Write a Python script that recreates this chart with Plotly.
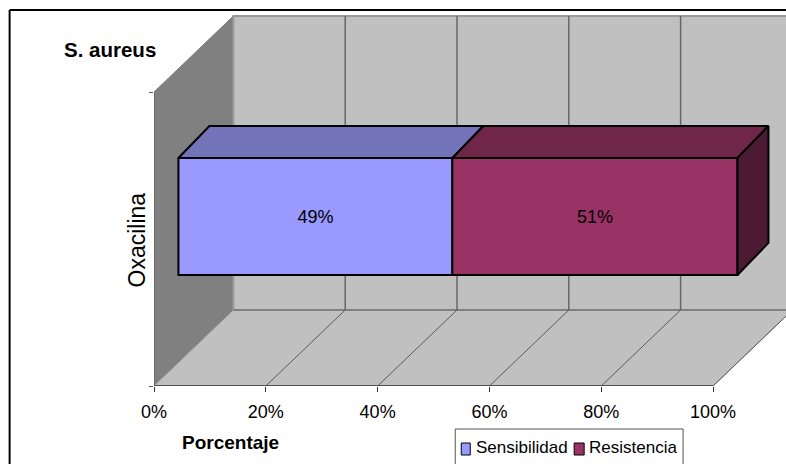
import plotly.graph_objects as go

# Chart data
categories = ["Oxacilina"]
series_names = ["Sensibilidad", "Resistencia"]
sensibilidad = [49]
resistencia = [51]
x_ticks = [0, 20, 40, 60, 80, 100]

FONT = "Liberation Sans"
W, H = 786, 464
LEFT, AXIS_RIGHT, AXIS_TOP, BOTTOM = 153.5, 713.0, 92.0, 386.0
PX_PER_X = (AXIS_RIGHT - LEFT) / 100
PX_PER_Y = BOTTOM - AXIS_TOP

# Oblique projection: how far the back wall sits from the front plane, in axis units
WALL_DX, WALL_DY = 14.2, 0.2585
# Bar solid: offset of its front face and extrusion towards the back
BAR_DX, BAR_DY = 4.37, 0.0765
EXT_DX, EXT_DY = 5.54, 0.109
BAR_CENTER, BAR_HEIGHT = 0.5, 0.398

FRONT = ["#9999ff", "#993366"]
TOPS = ["#7373ba", "#6f2649"]
SIDE = "#4d1a33"


def xp(px):
    return (px - LEFT) / (W - LEFT)


def yp(py):
    return (BOTTOM - py) / BOTTOM


def poly(xs, ys, fill, line_color, line_width=1):
    return go.Scatter(
        x=xs + xs[:1], y=ys + ys[:1], mode="lines",
        fill="toself", fillcolor=fill, line=dict(color=line_color, width=line_width),
        showlegend=False, hoverinfo="skip",
    )


def seg(xs, ys, color, width):
    return go.Scatter(
        x=xs, y=ys, mode="lines", line=dict(color=color, width=width),
        showlegend=False, hoverinfo="skip",
    )


fig = go.Figure()

# Room: left wall, back wall, floor
fig.add_trace(poly([0, WALL_DX, WALL_DX, 0], [0, WALL_DY, 1 + WALL_DY, 1], "#808080", "#808080"))
fig.add_trace(poly([WALL_DX, 100 + WALL_DX, 100 + WALL_DX, WALL_DX],
                   [WALL_DY, WALL_DY, 1 + WALL_DY, 1 + WALL_DY], "#c0c0c0", "#999999", 2))
fig.add_trace(poly([0, 100, 100 + WALL_DX, WALL_DX], [0, 0, WALL_DY, WALL_DY], "#c0c0c0", "#999999", 1))
fig.add_trace(seg([WALL_DX, 100 + WALL_DX], [WALL_DY, WALL_DY], "#808080", 2))

# Gridlines across the floor and up the back wall
for t in x_ticks[1:]:
    fig.add_trace(seg([t, t + WALL_DX], [0, WALL_DY], "#5a5a5a", 1))
    fig.add_trace(seg([t + WALL_DX, t + WALL_DX], [WALL_DY, 1 + WALL_DY], "#666666", 1.5))

# Axis lines stop at the front plane of the room
fig.add_trace(seg([0, 100], [0, 0], "#333333", 1.5))
fig.add_trace(seg([0, 0], [0, 1], "#555555", 1))

# Stacked bar front faces, on an overlay so they sit above the room
y_center = BAR_CENTER + BAR_DY
y_low = y_center - BAR_HEIGHT / 2
y_high = y_center + BAR_HEIGHT / 2
values = [sensibilidad[0], resistencia[0]]
bases = [0, sensibilidad[0]]
for name, value, base, color in zip(series_names, values, bases, FRONT):
    fig.add_trace(go.Bar(
        name=name, orientation="h", x=[value], base=[base + BAR_DX], y=[y_center], width=[BAR_HEIGHT],
        xaxis="x2", yaxis="y2", marker=dict(color=color, line=dict(color="black", width=2)),
        text=[f"{value}%"], textposition="inside", insidetextanchor="middle", textangle=0,
        textfont=dict(family=FONT, size=18, color="black"),
        showlegend=False,
    ))

# Top faces of each segment and the end cap of the stack
for base, value, color in zip(bases, values, TOPS):
    x0, x1 = base + BAR_DX, base + value + BAR_DX
    trace = poly([x0, x1, x1 + EXT_DX, x0 + EXT_DX],
                 [y_high, y_high, y_high + EXT_DY, y_high + EXT_DY], color, "black", 2)
    trace.update(xaxis="x2", yaxis="y2")
    fig.add_trace(trace)
x_end = bases[-1] + values[-1] + BAR_DX
cap = poly([x_end, x_end + EXT_DX, x_end + EXT_DX, x_end],
           [y_low, y_low + EXT_DY, y_high + EXT_DY, y_high], SIDE, "black", 2)
cap.update(xaxis="x2", yaxis="y2")
fig.add_trace(cap)

# Legend frame and keys
LEGEND_BOX = (455, 683, 429, 472)
KEYS = [(461, 470, 474), (574, 584, 587)]
shapes = [
    # Chart area border
    dict(type="line", xref="paper", yref="paper", x0=xp(9), x1=xp(W + 5), y0=yp(10), y1=yp(10),
         line=dict(color="black", width=2)),
    dict(type="line", xref="paper", yref="paper", x0=xp(9), x1=xp(9), y0=yp(10), y1=yp(H + 5),
         line=dict(color="black", width=2)),
    dict(type="rect", xref="paper", yref="paper", x0=xp(LEGEND_BOX[0]), x1=xp(LEGEND_BOX[1]),
         y0=yp(LEGEND_BOX[2]), y1=yp(LEGEND_BOX[3]), line=dict(color="#555555", width=1), fillcolor="white"),
]
annotations = []
for (k0, k1, tx), name, color in zip(KEYS, series_names, FRONT):
    shapes.append(dict(type="rect", xref="paper", yref="paper", x0=xp(k0), x1=xp(k1),
                       y0=yp(443), y1=yp(455), fillcolor=color, line=dict(color="black", width=1)))
    annotations.append(dict(text=name, xref="paper", yref="paper", x=xp(tx), y=yp(448), xanchor="left",
                            yanchor="middle", showarrow=False,
                            font=dict(family=FONT, size=17, color="black")))

annotations.append(dict(text="<b>S. aureus</b>", xref="paper", yref="paper", x=xp(109), y=yp(49),
                        xanchor="center", yanchor="middle", showarrow=False,
                        font=dict(family=FONT, size=20.5, color="black")))
annotations.append(dict(text="<b>Porcentaje</b>", xref="paper", yref="paper", x=xp(230), y=yp(442),
                        xanchor="center", yanchor="middle", showarrow=False,
                        font=dict(family=FONT, size=19, color="black")))
annotations.append(dict(text=categories[0], xref="paper", yref="paper", x=xp(136), y=yp(240),
                        xanchor="center", yanchor="middle", textangle=-90, showarrow=False,
                        font=dict(family=FONT, size=23, color="black")))

x_range = [0, (W - LEFT) / PX_PER_X]
y_range = [0, BOTTOM / PX_PER_Y]
fig.update_layout(
    width=W, height=H, autosize=False,
    margin=dict(l=LEFT, r=0, t=0, b=H - BOTTOM, pad=0, autoexpand=False),
    paper_bgcolor="white", plot_bgcolor="rgba(0,0,0,0)",
    barmode="overlay", showlegend=False,
    shapes=shapes, annotations=annotations,
    xaxis=dict(range=x_range, tickvals=x_ticks, ticktext=[f"{t}%" for t in x_ticks],
               showgrid=False, zeroline=False, showline=False,
               ticks="outside", ticklen=5, tickcolor="#333333", ticklabelstandoff=4,
               tickfont=dict(family=FONT, size=18, color="black")),
    yaxis=dict(range=y_range, tickvals=[0, 1], showticklabels=False, showgrid=False, zeroline=False,
               showline=False, ticks="outside", ticklen=4, tickcolor="#555555"),
    xaxis2=dict(range=x_range, overlaying="x", visible=False),
    yaxis2=dict(range=y_range, overlaying="y", visible=False),
)

fig.write_html("out.html")
